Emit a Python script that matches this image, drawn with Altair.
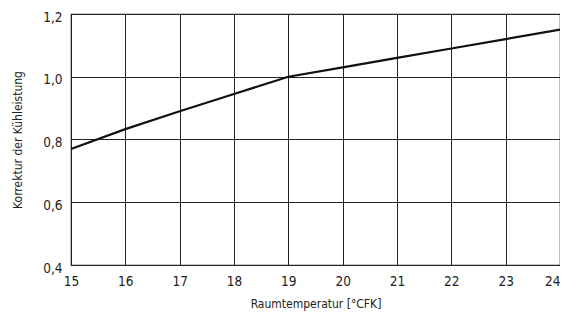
import altair as alt
import pandas as pd

temps = [15, 16, 17, 18, 19, 20, 21, 22, 23, 24]
korrektur = [0.77, 0.833, 0.89, 0.945, 1.0, 1.03, 1.06, 1.09, 1.12, 1.15]
y_ticks = [0.4, 0.6, 0.8, 1.0, 1.2]

df = pd.DataFrame({"t": temps, "k": korrektur})

FONT = "DejaVu Sans Condensed"

chart = alt.Chart(df).mark_line(color="#111111", strokeWidth=2.2).encode(
    x=alt.X("t:Q", scale=alt.Scale(domain=[15, 24], nice=False),
            axis=alt.Axis(title="Raumtemperatur [°CFK]", values=temps, format="d",
                          grid=True, gridColor="#222222", gridWidth=1, gridOpacity=1,
                          ticks=False, domain=False, labelPadding=9, labelFlush=False,
                          labelAlign=alt.condition("datum.value == 24", alt.value("right"), alt.value("center")),
                          labelFontSize=13.5, titleFontSize=12, titlePadding=11,
                          labelFont=FONT, titleFont=FONT, labelColor="#222",
                          titleColor="#222", titleFontWeight="normal")),
    y=alt.Y("k:Q", scale=alt.Scale(domain=[0.4, 1.2], nice=False),
            axis=alt.Axis(title="Korrektur der Kühleistung", values=y_ticks,
                          labelExpr="replace(format(datum.value, '.1f'), '.', ',')",
                          grid=True, gridColor="#222222", gridWidth=1, gridOpacity=1,
                          ticks=False, domain=False, labelPadding=9, labelOffset=3,
                          labelFlush=False,
                          labelFontSize=13.5, titleFontSize=12, titlePadding=18,
                          labelFont=FONT, titleFont=FONT, labelColor="#222",
                          titleColor="#222", titleFontWeight="normal")),
).properties(
    width=489, height=251,
    autosize=alt.AutoSizeParams(type="none"),
    padding={"left": 63, "top": 6, "right": 0, "bottom": 46},
).configure_view(stroke="#222222", strokeWidth=1.2)

chart.save("out.html", embed_options={"renderer": "svg", "actions": False})
